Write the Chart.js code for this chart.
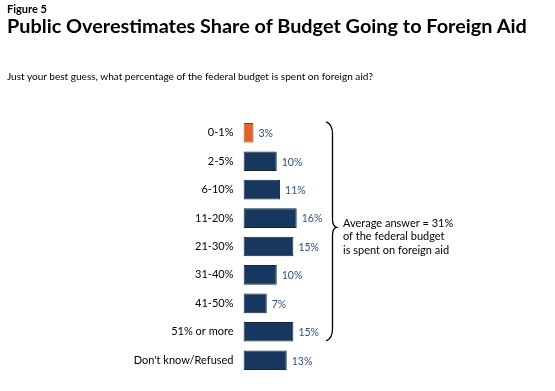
<!DOCTYPE html>
<html>
<head>
<meta charset="utf-8">
<script src="https://cdn.jsdelivr.net/npm/chart.js@4"></script>
<style>
  html, body { margin: 0; padding: 0; background: #fff; }
  #wrap { position: relative; width: 555px; height: 391px; overflow: hidden; font-family: Lato, "Open Sans", sans-serif; }
  #fig { position: absolute; left: 7px; top: 2px; font-size: 11px; font-weight: bold; color: #000; }
  #title { position: absolute; left: 7px; top: 13px; font-size: 20px; font-weight: bold; color: #000; white-space: nowrap; }
  #sub { position: absolute; left: 7px; top: 70px; font-size: 10.5px; color: #000; white-space: nowrap; }
  canvas { position: absolute; left: 0; top: 0; }
</style>
</head>
<body>
<div id="wrap">
  <canvas id="c" width="555" height="391"></canvas>
  <div id="fig">Figure 5</div>
  <div id="title">Public Overestimates Share of Budget Going to Foreign Aid</div>
  <div id="sub">Just your best guess, what percentage of the federal budget is spent on foreign aid?</div>
</div>
<script>
const categories = ["0-1%", "2-5%", "6-10%", "11-20%", "21-30%", "31-40%", "41-50%", "51% or more", "Don't know/Refused"];
const values = [3, 10, 11, 16, 15, 10, 7, 15, 13];
const valueLabels = ["3%", "10%", "11%", "16%", "15%", "10%", "7%", "15%", "13%"];
const noteLines = ["Average answer = 31%", "of the federal budget", "is spent on foreign aid"];

// fit title width to reference
(function fit() {
  const t = document.getElementById('title');
  const w = t.getBoundingClientRect().width;
  const target = 520;
  t.style.fontSize = (20 * target / w).toFixed(2) + 'px';
  const s = document.getElementById('sub');
  const ws = s.getBoundingClientRect().width;
  s.style.fontSize = (10.5 * 366 / ws).toFixed(2) + 'px';
})();

const NAVY = '#17375E', NAVY_B = '#0E2440', ORANGE = '#E4612A', ORANGE_B = '#8A3A18';

const valueLabelPlugin = {
  id: 'valueLabels',
  afterDatasetsDraw(chart) {
    const ctx = chart.ctx;
    const meta = chart.getDatasetMeta(0);
    ctx.save();
    ctx.font = '10.5px Lato, "Open Sans", sans-serif';
    ctx.fillStyle = '#2F4F80';
    ctx.textBaseline = 'middle';
    ctx.textAlign = 'left';
    meta.data.forEach((bar, i) => {
      ctx.fillText(valueLabels[i], bar.x + 5, bar.y + 1);
    });
    ctx.restore();
  }
};

const bracePlugin = {
  id: 'brace',
  afterDraw(chart) {
    const ctx = chart.ctx;
    const ys = chart.scales.y;
    const top = ys.getPixelForValue(0) - 11;
    const bot = ys.getPixelForValue(7) + 9;
    const mid = (top + bot) / 2 - 4;
    const x0 = 326, x1 = 332.5, xt = 336.5;
    ctx.save();
    ctx.strokeStyle = '#000';
    ctx.lineWidth = 1.3;
    ctx.beginPath();
    ctx.moveTo(x0, top);
    ctx.quadraticCurveTo(x1, top + 2, x1, top + 12);
    ctx.lineTo(x1, mid - 8);
    ctx.quadraticCurveTo(x1, mid - 1, xt, mid);
    ctx.quadraticCurveTo(x1, mid + 1, x1, mid + 8);
    ctx.lineTo(x1, bot - 12);
    ctx.quadraticCurveTo(x1, bot - 2, x0, bot);
    ctx.stroke();
    ctx.font = '11px Lato, "Open Sans", sans-serif';
    ctx.fillStyle = '#000';
    ctx.textBaseline = 'middle';
    ctx.textAlign = 'left';
    noteLines.forEach((ln, i) => ctx.fillText(ln, 343, mid - 4 + i * 13.5));
    ctx.restore();
  }
};

new Chart(document.getElementById('c'), {
  type: 'bar',
  data: {
    labels: categories,
    datasets: [{
      data: values,
      backgroundColor: values.map((v, i) => i === 0 ? ORANGE : NAVY),
      borderColor: values.map((v, i) => i === 0 ? ORANGE_B : NAVY_B),
      borderWidth: 1,
      borderSkipped: false,
      categoryPercentage: 1,
      barPercentage: 0.69
    }]
  },
  options: {
    indexAxis: 'y',
    responsive: false,
    animation: false,
    layout: { padding: { left: 0, right: 211.75, top: 118.6, bottom: 13.6 } },
    plugins: { legend: { display: false }, tooltip: { enabled: false }, title: { display: false } },
    scales: {
      x: { display: false, min: 0, max: 30 },
      y: {
        afterFit(s) { s.width = 243.5; },
        grid: { display: false, drawTicks: false },
        border: { display: false },
        ticks: { color: '#000', padding: 10, font: { family: 'Lato, "Open Sans", sans-serif', size: 11 } }
      }
    }
  },
  plugins: [valueLabelPlugin, bracePlugin]
});
</script>
</body>
</html>
